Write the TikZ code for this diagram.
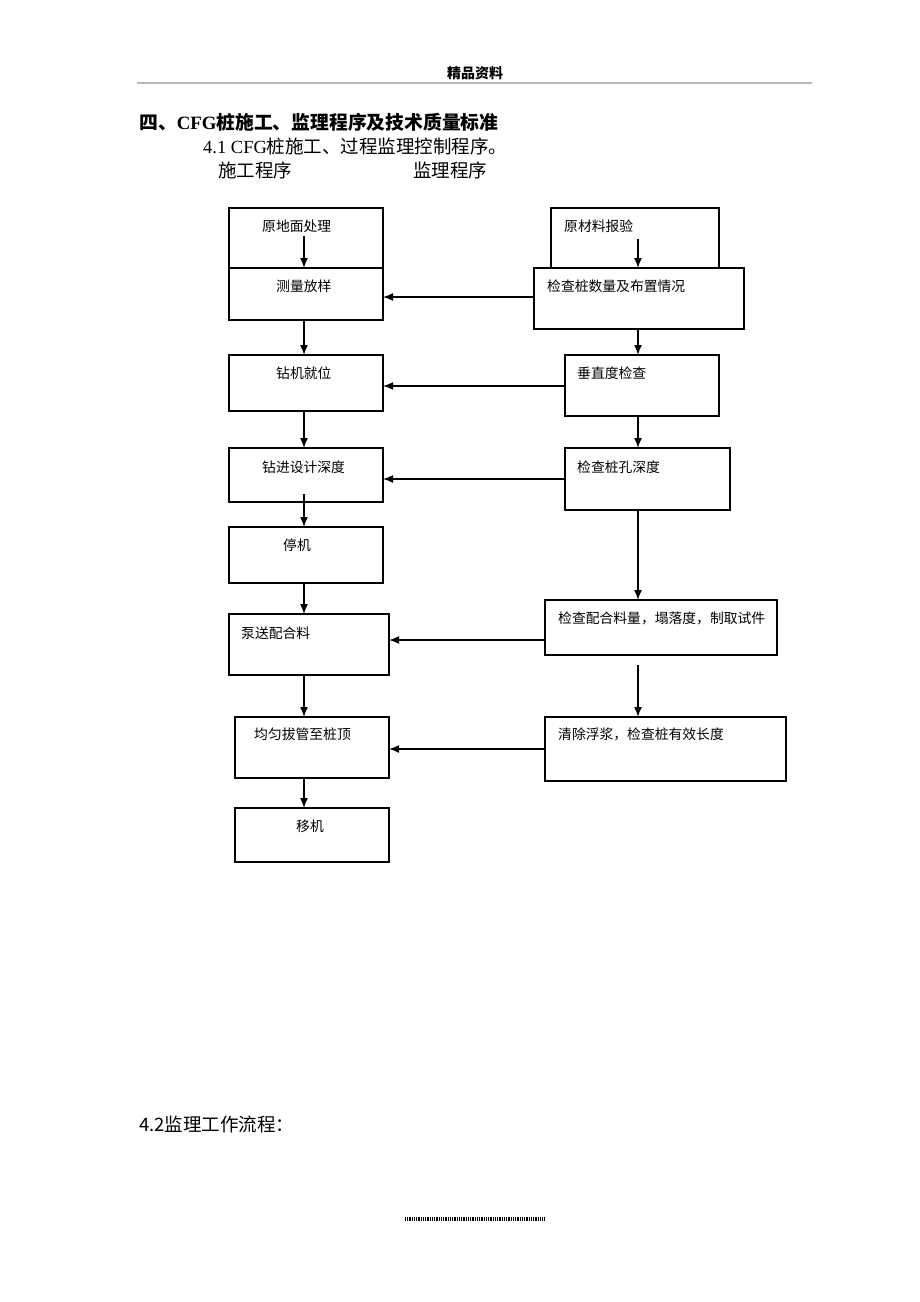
\documentclass[tikz,border=0pt]{standalone}
\usepackage{fontspec}
\setmainfont{Liberation Serif}
\newfontfamily\cjk{Noto Sans CJK SC}
\usetikzlibrary{arrows.meta,calc}
\tikzset{
	box/.style={draw, line width=1.3pt, rectangle, inner sep=0pt, outer sep=0pt},
	lbl/.style={anchor=west, inner sep=0pt, font=\cjk\fontsize{13.8}{16}\selectfont},
	head/.style={anchor=west, inner sep=0pt, font=\fontsize{18.5}{20}\selectfont},
	flow/.style={line width=1.5pt, -{Latex[length=10pt,width=8pt]}}
}
% box from its top left and bottom right corner, in page pixels
\def\mkbox#1(#2,#3)(#4,#5){\node[box, minimum width={(#4-#2)*1pt}, minimum height={(#5-#3)*1pt}] (#1) at ({(#2+#4)/2},{(#3+#5)/2}) {};}

\begin{document}
\begin{tikzpicture}[x=1pt,y=-1pt]
		%%%%% START %%%%%
		\fill[white] (0,0) rectangle (920,1302);
		\useasboundingbox (0,0) rectangle (920,1302);
		
		\node[font=\cjk\bfseries\fontsize{14}{16}\selectfont] (hdr) at (475,73) {精品资料};
		\draw[gray!55, line width=1.5pt] (137,83) -- (812,83);
		
		\node[head, font=\fontsize{18.8}{20}\selectfont\bfseries] (ttl) at (139,122) {{\cjk 四、}CFG{\cjk 桩施工、监理程序及技术质量标准}};
		\node[head] (sub) at (203,146) {4.1 CFG{\cjk 桩施工、过程监理控制程序。}};
		\node[head] (sg) at (218,170) {\cjk 施工程序};
		\node[head] (jl) at (413,170) {\cjk 监理程序};
		
		\coordinate (lx) at (304,0);
		\coordinate (rx) at (638,0);
		
		% construction steps
		\mkbox{b1}(229,208)(383,268)
		\mkbox{b2}(229,268)(383,320)
		\mkbox{b3}(229,355)(383,411)
		\mkbox{b4}(229,448)(383,502)
		\mkbox{b5}(229,527)(383,583)
		\mkbox{b6}(229,614)(389,675)
		\mkbox{b7}(235,717)(389,778)
		\mkbox{b8}(235,808)(389,862)
		
		\node[lbl] (t1) at (262,226) {原地面处理};
		\node[lbl] (t2) at (276,286) {测量放样};
		\node[lbl] (t3) at (276,373) {钻机就位};
		\node[lbl] (t4) at (262,467) {钻进设计深度};
		\node[lbl] (t5) at (283,545) {停机};
		\node[lbl] (t6) at (241,633) {泵送配合料};
		\node[lbl] (t7) at (254,734) {均匀拔管至桩顶};
		\node[lbl] (t8) at (296,826) {移机};
		
		% supervision steps
		\mkbox{r1}(551,208)(719,268)
		\mkbox{r2}(534,268)(744,329)
		\mkbox{r3}(565,355)(719,416)
		\mkbox{r4}(565,448)(730,510)
		\mkbox{r5}(545,600)(777,655)
		\mkbox{r6}(545,717)(786,781)
		
		\node[lbl] (s1) at (564,226) {原材料报验};
		\node[lbl] (s2) at (547,286) {检查桩数量及布置情况};
		\node[lbl] (s3) at (577,373) {垂直度检查};
		\node[lbl] (s4) at (577,467) {检查桩孔深度};
		\node[lbl] (s5) at (558,618) {检查配合料量，塌落度，制取试件};
		\node[lbl] (s6) at (558,734) {清除浮浆，检查桩有效长度};
		
		% left column
		\draw[flow] ([yshift=-3pt]t1.south -| lx) -- (b2.north -| lx);
		\draw[flow] (b2.south -| lx) -- (b3.north -| lx);
		\draw[flow] (b3.south -| lx) -- (b4.north -| lx);
		\draw[flow] ([yshift=8pt]b4.south -| lx) -- (b5.north -| lx);
		\draw[flow] (b5.south -| lx) -- (b6.north -| lx);
		\draw[flow] (b6.south -| lx) -- (b7.north -| lx);
		\draw[flow] (b7.south -| lx) -- (b8.north -| lx);
		
		% right column
		\draw[flow] ([yshift=-6pt]s1.south -| rx) -- (r2.north -| rx);
		\draw[flow] (r2.south -| rx) -- (r3.north -| rx);
		\draw[flow] (r3.south -| rx) -- (r4.north -| rx);
		\draw[flow] (r4.south -| rx) -- (r5.north -| rx);
		\draw[flow] ([yshift=-10pt]r5.south -| rx) -- (r6.north -| rx);
		
		% across
		\draw[flow] ([yshift=1.5pt]r2.west) -- ([yshift=1.5pt]r2.west -| b2.east);
		\draw[flow] ([yshift=-0.5pt]r3.west) -- ([yshift=-0.5pt]r3.west -| b3.east);
		\draw[flow] (r4.west) -- (r4.west -| b4.east);
		\draw[flow] ([yshift=-12.5pt]r5.west) -- ([yshift=-12.5pt]r5.west -| b6.east);
		\draw[flow] (r6.west) -- (r6.west -| b7.east);
		
		\node[head] (nx) at (139,1124) {\cjk 4.2监理工作流程：};
		\draw[line width=4pt, dash pattern=on 1pt off 0.8pt] (405,1219) -- (545,1219);
		%%%%% END %%%%%
	\end{tikzpicture}
\end{document}
